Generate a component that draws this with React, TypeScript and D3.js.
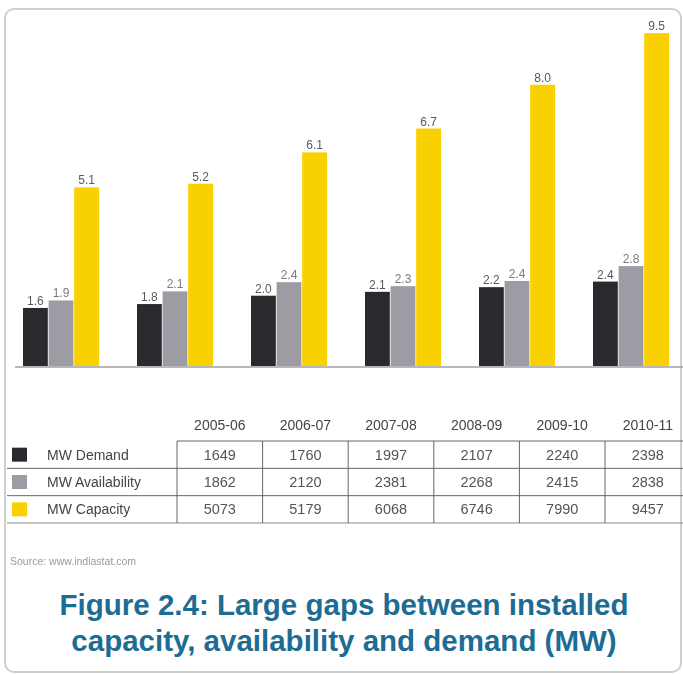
import React from "react";
import * as d3 from "d3";

const years = ["2005-06", "2006-07", "2007-08", "2008-09", "2009-10", "2010-11"];
const demand = [1649, 1760, 1997, 2107, 2240, 2398];
const availability = [1862, 2120, 2381, 2268, 2415, 2838];
const capacity = [5073, 5179, 6068, 6746, 7990, 9457];
const seriesKeys = ["demand", "availability", "capacity"];
const seriesNames = ["MW Demand", "MW Availability", "MW Capacity"];
const seriesValues = [demand, availability, capacity];
const seriesColors = ["#2b2b2d", "#9d9ba3", "#f9d000"];
const titleLines = [
  "Figure 2.4: Large gaps between installed",
  "capacity, availability and demand (MW)",
];
const sourceText = "Source: www.indiastat.com";

const W = 683;
const H = 674;

export default function App() {
  const x0 = d3
    .scaleBand<string>()
    .domain(years)
    .range([23, 23 + 114 * 5 + 76])
    .paddingInner(1 / 3)
    .paddingOuter(0);
  const x1 = d3
    .scaleBand<string>()
    .domain(seriesKeys)
    .range([0, x0.bandwidth()])
    .paddingInner(0.03);
  const y = d3.scaleLinear().domain([0, 10000]).range([366, 14]);
  const fmt = (v: number) => d3.format(".1f")(v / 1000);

  // table columns
  const tx = d3.scaleBand<string>().domain(years).range([177, 177 + 85.6 * 6]);
  const rowY = d3.scaleBand<string>().domain(seriesKeys).range([441, 523]);

  return (
    <svg
      width={W}
      height={H}
      style={{ position: "absolute", left: 0, top: 0, display: "block" }}
      fontFamily="'Liberation Sans', Arial, sans-serif"
    >
      <defs>
        <filter id="soft" x="-5%" y="-5%" width="110%" height="110%">
          <feGaussianBlur stdDeviation="0.55" />
        </filter>
      </defs>
      <rect x={0} y={0} width={W} height={H} fill="#ffffff" />
      <rect
        x={5}
        y={9}
        width={676}
        height={663}
        rx={9}
        ry={9}
        fill="#ffffff"
        stroke="#cfcfcf"
        strokeWidth={2}
      />
      <g filter="url(#soft)">
        {/* bars */}
        {years.map((yr, i) => (
          <g key={yr} transform={`translate(${x0(yr)},0)`}>
            {seriesKeys.map((k, s) => {
              const v = seriesValues[s][i];
              return (
                <rect
                  key={k}
                  x={x1(k)}
                  y={y(v)}
                  width={x1.bandwidth()}
                  height={y(0) - y(v)}
                  fill={seriesColors[s]}
                />
              );
            })}
            {seriesKeys.map((k, s) => {
              const v = seriesValues[s][i];
              return (
                <text
                  key={k + "l"}
                  x={(x1(k) as number) + x1.bandwidth() / 2}
                  y={y(v) - 3}
                  textAnchor="middle"
                  fontSize={12}
                  fill={s === 1 ? "#7a7a80" : "#5a5a5a"}
                >
                  {fmt(v)}
                </text>
              );
            })}
          </g>
        ))}
        <line x1={15} x2={683} y1={y(0) + 1} y2={y(0) + 1} stroke="#a0a0a0" strokeWidth={1.5} />

        {/* data table */}
        {years.map((yr) => (
          <text
            key={yr + "h"}
            x={(tx(yr) as number) + tx.bandwidth() / 2}
            y={430}
            textAnchor="middle"
            fontSize={14}
            fill="#444"
          >
            {yr}
          </text>
        ))}
        <line x1={177} x2={683} y1={441} y2={441} stroke="#666" strokeWidth={1} />
        {seriesKeys.map((k, s) => (
          <line
            key={k + "hl"}
            x1={7}
            x2={683}
            y1={(rowY(k) as number) + rowY.bandwidth()}
            y2={(rowY(k) as number) + rowY.bandwidth()}
            stroke={s === 2 ? "#888" : "#666"}
            strokeWidth={1}
          />
        ))}
        {years.map((yr) => (
          <line
            key={yr + "v"}
            x1={tx(yr)}
            x2={tx(yr)}
            y1={441}
            y2={523}
            stroke="#666"
            strokeWidth={1}
          />
        ))}
        {seriesKeys.map((k, s) => {
          const cy = (rowY(k) as number) + rowY.bandwidth() / 2;
          return (
            <g key={k + "row"}>
              <rect x={12} y={cy - 7} width={15} height={14} fill={seriesColors[s]} />
              <text x={47} y={cy + 5} fontSize={14} fill="#444">
                {seriesNames[s]}
              </text>
              {years.map((yr, i) => (
                <text
                  key={yr}
                  x={(tx(yr) as number) + tx.bandwidth() / 2}
                  y={cy + 5}
                  textAnchor="middle"
                  fontSize={14.5}
                  fill="#555"
                >
                  {seriesValues[s][i]}
                </text>
              ))}
            </g>
          );
        })}
        <text x={10} y={565} fontSize={10.5} fill="#9a9a9a">
          {sourceText}
        </text>
      </g>

      {/* title */}
      {titleLines.map((t, i) => (
        <text
          key={i}
          x={344}
          y={615 + i * 36}
          textAnchor="middle"
          fontSize={29.5}
          fontWeight="bold"
          fill="#1d6c93"
        >
          {t}
        </text>
      ))}
    </svg>
  );
}
